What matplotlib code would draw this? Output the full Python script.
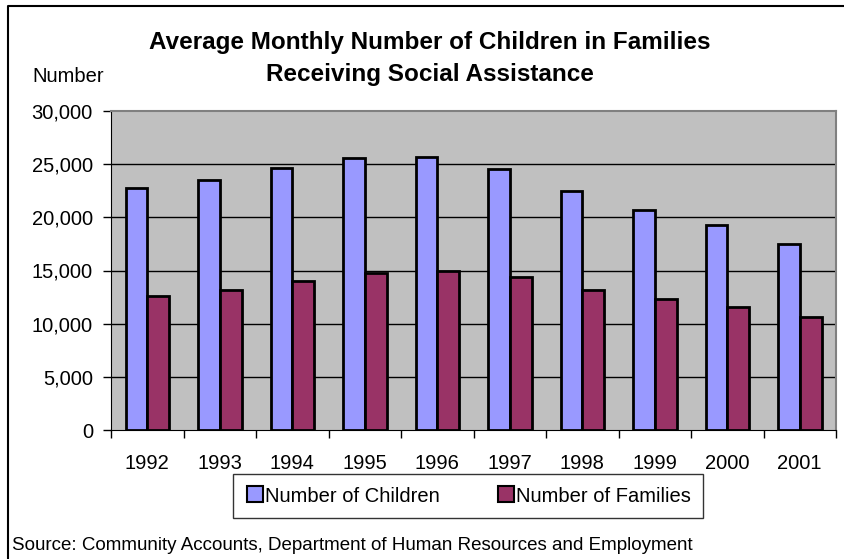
import numpy as np
import matplotlib.pyplot as plt
from matplotlib.lines import Line2D
from matplotlib.ticker import FuncFormatter

plt.rcParams['font.family'] = ['Liberation Sans', 'DejaVu Sans']

years = ['1992', '1993', '1994', '1995', '1996', '1997', '1998', '1999', '2000', '2001']
children = [22800, 23500, 24600, 25600, 25700, 24500, 22500, 20700, 19300, 17500]
families = [12600, 13200, 14000, 14800, 15000, 14400, 13200, 12300, 11600, 10600]

W, H = 844, 559
fig = plt.figure(figsize=(W / 100, H / 100), dpi=100)
# plot area in pixels: left 111, right 836, top 111, bottom 430
ax = fig.add_axes([111 / W, 1 - 430 / H, (836 - 111) / W, (430 - 111) / H])
ax.set_facecolor('#C0C0C0')

x = np.arange(len(years))
bw = 0.3
ax.bar(x - bw / 2, children, bw, color='#9999FF', edgecolor='black', linewidth=2,
       label='Number of Children', zorder=3)
ax.bar(x + bw / 2, families, bw, color='#993366', edgecolor='black', linewidth=2,
       label='Number of Families', zorder=3)

ax.set_xlim(-0.5, len(years) - 0.5)
ax.set_ylim(0, 30000)
ax.set_yticks(range(0, 30001, 5000))
ax.yaxis.set_major_formatter(FuncFormatter(lambda v, p: f'{int(v):,}'))
ax.set_xticks(x)
ax.set_xticklabels(years)
ax.set_xticks(np.arange(-0.5, len(years), 1), minor=True)
ax.tick_params(axis='x', which='major', length=0, pad=17, labelsize=14.5)
ax.tick_params(axis='x', which='minor', length=6, direction='out', width=1)
ax.tick_params(axis='y', length=6, direction='out', width=1, pad=7, labelsize=14.5)

for v in range(5000, 30000, 5000):
    ax.axhline(v, color='black', linewidth=1, zorder=1)

for side in ['top', 'right']:
    ax.spines[side].set_color('#808080')
    ax.spines[side].set_linewidth(1.5)
ax.spines['left'].set_color('black')
ax.spines['bottom'].set_color('black')

fig.text(430 / W, 1 - 43 / H, 'Average Monthly Number of Children in Families',
         ha='center', va='center', fontsize=17.5, fontweight='bold')
fig.text(430 / W, 1 - 74 / H, 'Receiving Social Assistance',
         ha='center', va='center', fontsize=17.5, fontweight='bold')
fig.text(32 / W, 1 - 76 / H, 'Number', ha='left', va='center', fontsize=14.5)
fig.text(12 / W, 1 - 545 / H, 'Source: Community Accounts, Department of Human Resources and Employment',
         ha='left', va='center', fontsize=13.5)

# legend box
handles = [
    Line2D([], [], marker='s', linestyle='none', markersize=12, markerfacecolor='#9999FF',
           markeredgecolor='black', markeredgewidth=1.5),
    Line2D([], [], marker='s', linestyle='none', markersize=12, markerfacecolor='#993366',
           markeredgecolor='black', markeredgewidth=1.5),
]
leg = fig.legend(handles, ['Number of Children', 'Number of Families'], ncol=2,
                 loc='center', bbox_to_anchor=(468 / W, 1 - 496 / H), fontsize=14.5,
                 frameon=True, fancybox=False, edgecolor='black', borderpad=0.6,
                 handletextpad=0.0, columnspacing=2.8, handlelength=1.0)
leg.get_frame().set_linewidth(1)

# figure border (top and left)
fig.add_artist(Line2D([8 / W, 8 / W, 1], [0, 1 - 6 / H, 1 - 6 / H], color='black',
                      linewidth=1.5, transform=fig.transFigure))

fig.savefig('out.png', dpi=100)
